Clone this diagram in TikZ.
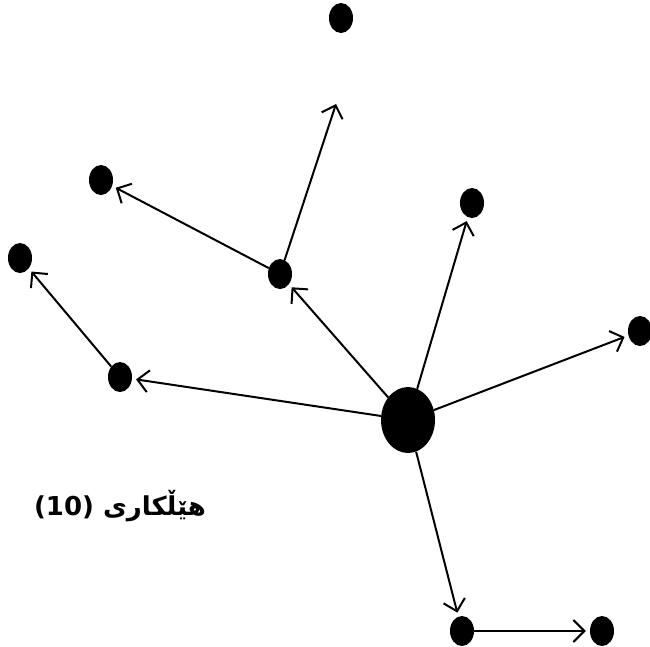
\documentclass[tikz,border=0pt]{standalone}
\usepackage{fontspec}
\usetikzlibrary{arrows.meta,shapes.geometric}
\TeXXeTstate=1
\newfontfamily\arabicfont[Script=Arabic]{DejaVu Sans}
\begin{document}
\begin{tikzpicture}[x=1pt,y=-1pt,
  dot/.style={ellipse,fill=black,inner sep=0pt,minimum width=24pt,minimum height=30pt},
  bigdot/.style={ellipse,fill=black,inner sep=0pt,minimum width=54pt,minimum height=66pt},
  link/.style={line width=2pt,-{Straight Barb[length=11pt,width=22pt,line width=2pt]},shorten >=4pt}]
\useasboundingbox (0,0) rectangle (650,646);
\node[bigdot] (c) at (408,420) {};
\node[dot] (t) at (341,18) {};
\node[dot] (a) at (101,180) {};
\node[dot] (b) at (20,258) {};
\node[dot] (m) at (280,274) {};
\node[dot] (r1) at (472,203) {};
\node[dot] (r2) at (640,331) {};
\node[dot] (l) at (120,377) {};
\node[dot] (d1) at (462,631) {};
\node[dot] (d2) at (602,631) {};
\coordinate (tend) at (336,104);
\draw[link] (c) -- (l);
\draw[link] (c) -- (m);
\draw[link] (c) -- (r1);
\draw[link] (c) -- (r2);
\draw[link] (c) -- (d1);
\draw[link,shorten >=0pt] (m) -- (tend);
\draw[link] (m) -- (a);
\draw[link] (l) -- (b);
\draw[link] (d1) -- (d2);
\node[font=\arabicfont\bfseries\fontsize{26}{30}\selectfont] (lbl) at (120,506) {\beginR هێڵکاری (\beginL 10\endL)\endR};
\end{tikzpicture}
\end{document}
